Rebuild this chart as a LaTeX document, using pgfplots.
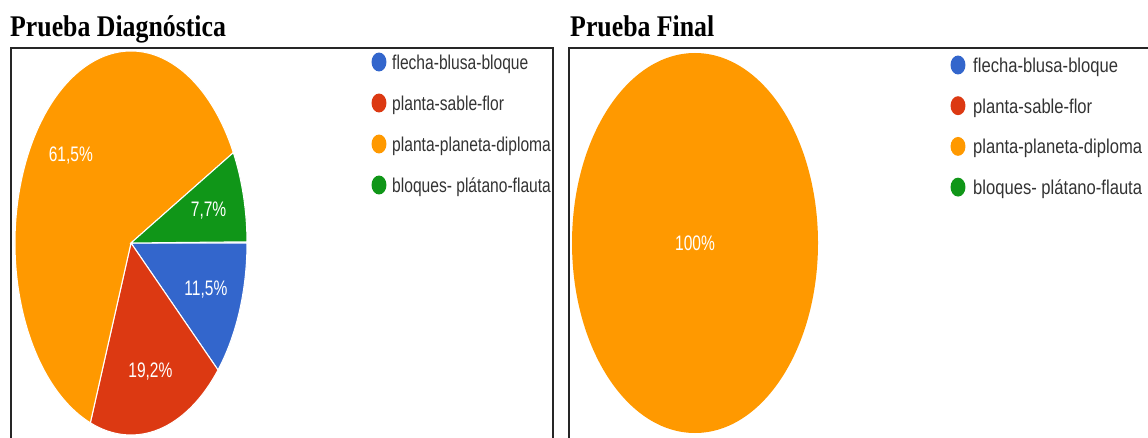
\documentclass[border=0pt]{standalone}
\usepackage{fontspec}
\setmainfont{Liberation Serif}
\setsansfont{Liberation Sans}
\usepackage{pgfplots}
\usepackage{pgfplotstable}
\pgfplotsset{compat=1.18}
\usetikzlibrary{calc}

\definecolor{gblue}{HTML}{3366CC}
\definecolor{gred}{HTML}{DC3912}
\definecolor{gorange}{HTML}{FF9900}
\definecolor{ggreen}{HTML}{109618}

\newcommand\slicefont{\sffamily\fontsize{15.75}{16}\selectfont}
\newcommand\legfont{\sffamily\fontsize{15}{16}\selectfont}
\newcommand\titlefont{\rmfamily\bfseries\fontsize{22.5}{24}\selectfont}

% share of answers, slices go clockwise from 3 o'clock
\pgfplotstableread{
name val col
flecha-blusa-bloque 11.5 gblue
planta-sable-flor 19.2 gred
planta-planeta-diploma 61.5 gorange
{bloques- plátano-flauta} 7.7 ggreen
}\diag

\pgfplotstableread{
name val col
flecha-blusa-bloque 0 gblue
planta-sable-flor 0 gred
planta-planeta-diploma 100 gorange
{bloques- plátano-flauta} 0 ggreen
}\final

% #1 table, #2 cx, #3 cy, #4 rx, #5 ry (axis units = px)
\newcommand\drawpie[5]{%
  \pgfmathsetmacro\prx{#4*0.75}%
  \pgfmathsetmacro\pry{#5*0.75}%
  \pgfplotstablegetrowsof{#1}%
  \pgfmathtruncatemacro\lastrow{\pgfplotsretval-1}%
  \xdef\astart{0}%
  \pgfplotsinvokeforeach{0,...,\lastrow}{%
    \pgfplotstablegetelem{##1}{val}\of#1\let\sval\pgfplotsretval
    \pgfplotstablegetelem{##1}{col}\of#1\let\scol\pgfplotsretval
    \pgfmathsetmacro\aend{\astart-3.6*\sval}%
    \pgfmathsetmacro\amid{(\astart+\aend)/2}%
    \ifdim\sval pt>99.9pt
      \def\sdraw{none}\def\lrx{0}\def\lry{0}%
    \else
      \def\sdraw{white}%
      \pgfmathsetmacro\lrx{0.69*\prx}\pgfmathsetmacro\lry{0.69*\pry}%
    \fi
    \ifdim\sval pt>0pt
      \edef\temp{%
        \noexpand\fill[\scol, draw=\sdraw, line width=0.8pt]
          (axis cs:#2,#3) -- +(\astart:\prx pt and \pry pt)
          arc[start angle=\astart, end angle=\aend, x radius=\prx pt, y radius=\pry pt] -- cycle;
        \noexpand\node[text=white, font=\noexpand\slicefont, xscale=0.74]
          at ($(axis cs:#2,#3)+(\amid:\lrx pt and \lry pt)$)
          {\noexpand\pgfmathprintnumber[use comma,fixed,precision=1,assume math mode=true]{\sval}\noexpand\%};
      }\temp
    \fi
    \xdef\astart{\aend}%
  }%
}

% #1 table, #2 dot x, #3 first y, #4 row step, #5 text x, #6 xscale
\newcommand\drawlegend[6]{%
  \pgfplotstablegetrowsof{#1}%
  \pgfmathtruncatemacro\lastrow{\pgfplotsretval-1}%
  \pgfplotsinvokeforeach{0,...,\lastrow}{%
    \pgfplotstablegetelem{##1}{name}\of#1\let\sname\pgfplotsretval
    \pgfplotstablegetelem{##1}{col}\of#1\let\scol\pgfplotsretval
    \pgfmathsetmacro\ly{#3+##1*#4}%
    \pgfmathsetmacro\lyb{\ly+7.5}%
    \edef\temp{%
      \noexpand\fill[\scol] (axis cs:#2,\ly) ellipse [x radius=5.6pt, y radius=7.1pt];
      \noexpand\node[anchor=base west, inner sep=0pt, font=\noexpand\legfont, text=black!80, xscale=#6]
        at (axis cs:#5,\lyb) {\sname};
    }\temp
  }%
}

\pgfplotsset{panel/.style={
  anchor=north west, scale only axis, height=301.5pt,
  ymin=48, ymax=450, y dir=reverse,
  xtick=\empty, ytick=\empty, clip=false,
  axis line style={black!85, line width=1.5pt}}}

\begin{document}
\begin{tikzpicture}
\useasboundingbox (0pt,0pt) rectangle (861pt,328.5pt);
\clip (0pt,0pt) rectangle (861pt,328.5pt);

\begin{axis}[panel, at={(8.25pt,292.5pt)}, width=406.5pt, xmin=11, xmax=553]
  \drawpie{\diag}{131}{243}{116}{192}
  \drawlegend{\diag}{379}{62}{41}{392}{0.78}
  \node[anchor=base west, inner sep=0pt, font=\titlefont, xscale=0.86] at (axis cs:10,37) {Prueba Diagnóstica};
\end{axis}

\begin{axis}[panel, at={(426.75pt,292.5pt)}, width=443.25pt, xmin=569, xmax=1160]
  \drawpie{\final}{695}{243}{123}{190}
  \drawlegend{\final}{958}{65}{40.7}{973}{0.83}
  \node[anchor=base west, inner sep=0pt, font=\titlefont, xscale=0.86] at (axis cs:570,37) {Prueba Final};
\end{axis}
\end{tikzpicture}
\end{document}
